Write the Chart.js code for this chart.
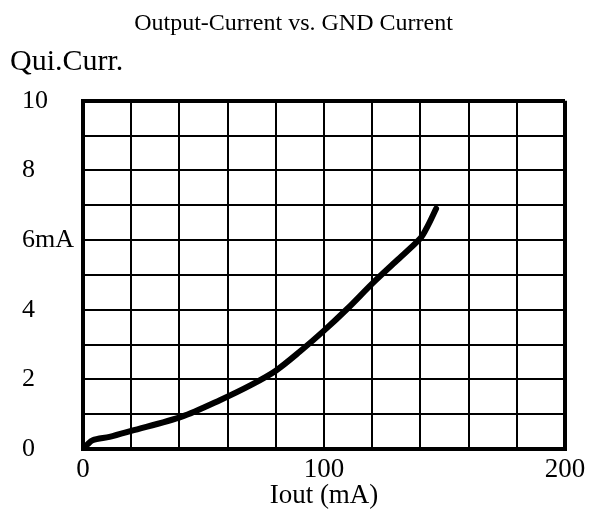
<!DOCTYPE html>
<html>
<head>
<meta charset="utf-8">
<script src="https://cdn.jsdelivr.net/npm/chart.js@4/dist/chart.umd.min.js"></script>
<style>
    html, body { margin: 0; padding: 0; background: #fff; }
    #wrap { width: 589px; height: 513px; }
</style>
</head>
<body>
<div id="wrap"><canvas id="gnd-chart"></canvas></div>
<script>
const outputCurrent = [1.5, 4, 11, 20, 41, 57, 70, 80, 90, 100, 110, 120, 130, 140, 143, 146.5];
const gndCurrent = [0.11, 0.25, 0.35, 0.52, 0.93, 1.41, 1.85, 2.25, 2.8, 3.4, 4.05, 4.75, 5.4, 6.05, 6.4, 6.9];
const xLabels = { 0: '0', 100: '100', 200: '200' };
const yLabels = { 0: '0', 2: '2', 4: '4', 6: '6mA', 8: '8', 10: '10' };

const FONT = 'Liberation Serif';

// "Qui.Curr." sits above the y tick labels, left of the plot
const cornerLabel = {
    id: 'cornerLabel',
    afterDraw(chart) {
        const { ctx, chartArea } = chart;
        ctx.save();
        ctx.font = '30px "' + FONT + '"';
        ctx.fillStyle = '#000';
        ctx.textBaseline = 'middle';
        ctx.textAlign = 'left';
        ctx.fillText('Qui.Curr.', 10, chartArea.top - 39);
        ctx.restore();
    },
};

const ctx = document.getElementById('gnd-chart').getContext('2d');

// eslint-disable-next-line no-undef
new Chart(ctx, {
    type: 'line',
    data: {
        datasets: [
            {
                data: outputCurrent.map((x, i) => ({ x: x, y: gndCurrent[i] })),
                borderColor: '#000',
                borderWidth: 6,
                borderCapStyle: 'round',
                pointRadius: 0,
                tension: 0.3,
                fill: false,
            },
        ],
    },
    options: {
        responsive: true,
        maintainAspectRatio: false,
        animation: false,
        layout: { padding: { left: 22, right: 24, top: 0, bottom: 0 } },
        scales: {
            x: {
                type: 'linear',
                min: 0,
                max: 200,
                afterFit: (scale) => {
                    scale.height = 64;
                    scale.paddingRight = 24;
                },
                grid: {
                    color: '#000',
                    lineWidth: (c) => (c.tick && (c.tick.value === 0 || c.tick.value === 200) ? 4 : 2),
                    drawTicks: false,
                },
                border: { display: true, color: '#000', width: 4 },
                ticks: {
                    stepSize: 20,
                    autoSkip: false,
                    maxRotation: 0,
                    padding: 7,
                    color: '#000',
                    font: { family: FONT, size: 27, lineHeight: 1 },
                    callback: (v) => (xLabels[v] !== undefined ? xLabels[v] : ''),
                },
                title: {
                    display: true,
                    text: 'Iout (mA)',
                    color: '#000',
                    font: { family: FONT, size: 27, lineHeight: 0.8 },
                    padding: { top: 0, bottom: 6 },
                },
            },
            y: {
                min: 0,
                max: 10,
                afterFit: (scale) => { scale.width = 61; },
                grid: {
                    color: '#000',
                    lineWidth: (c) => (c.tick && (c.tick.value === 0 || c.tick.value === 10) ? 4 : 2),
                    drawTicks: false,
                },
                border: { display: true, color: '#000', width: 4 },
                ticks: {
                    stepSize: 1,
                    autoSkip: false,
                    crossAlign: 'far',
                    color: '#000',
                    font: { family: FONT, size: 26 },
                    callback: (v) => (yLabels[v] !== undefined ? yLabels[v] : ''),
                },
            },
        },
        plugins: {
            legend: { display: false },
            tooltip: { enabled: false },
            title: {
                display: true,
                text: 'Output-Current vs. GND Current',
                color: '#000',
                font: { family: FONT, size: 24, weight: 'normal', lineHeight: 1.2 },
                padding: { top: 9, bottom: 63 },
            },
        },
    },
    plugins: [cornerLabel],
});
</script>
</body>
</html>
